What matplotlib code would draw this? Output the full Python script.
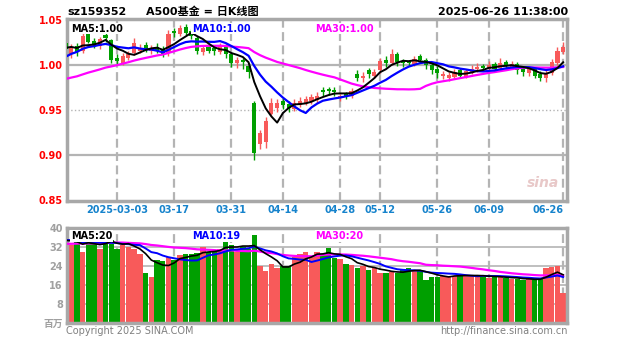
import numpy as np
import pandas as pd
import matplotlib
matplotlib.use('Agg')
from matplotlib import pyplot as plt

plt.rcParams['font.family'] = ['DejaVu Sans', 'Noto Sans CJK SC']

symbol = 'sz159352'
title = 'A500基金 = 日K线图'
stamp = '2025-06-26 11:38:00'

holidays = ['2025-04-04', '2025-05-01', '2025-05-02', '2025-05-05', '2025-06-02']
dates = [d for d in pd.bdate_range('2025-02-18', '2025-06-26').strftime('%Y-%m-%d')
         if d not in holidays]

# daily OHLC, 2025-02-18 .. 2025-06-26
opens = [1.024, 1.012, 1.021, 1.015, 1.034, 1.027, 1.021, 1.033, 1.028,
         1.008, 1.002, 1.008, 1.013, 1.016, 1.022, 1.016, 1.020, 1.018, 1.013,
         1.038, 1.034, 1.042, 1.038, 1.030, 1.014, 1.020, 1.019, 1.014, 1.021,
         1.012, 1.002, 1.006, 0.999, 0.958, 0.912, 0.914, 0.946, 0.952,
         0.960, 0.957, 0.951, 0.956, 0.958, 0.960, 0.961, 0.972, 0.973, 0.972,
         0.963, 0.968, 0.966, 0.990, 0.985, 0.994, 0.988,
         0.994, 1.006, 1.002, 1.012, 1.004, 1.004, 1.001, 1.010, 1.005, 1.000,
         0.996, 0.988, 0.986, 0.987, 0.994, 0.987, 0.992, 0.995, 0.999,
         0.996, 1.001, 0.997, 1.003, 0.998, 1.001, 0.996, 0.991, 0.996, 0.990,
         0.985, 0.991, 1.002, 1.014]
closes = [1.018, 1.020, 1.014, 1.032, 1.026, 1.022, 1.029, 1.030, 1.006,
          1.004, 1.010, 1.012, 1.024, 1.019, 1.018, 1.019, 1.016, 1.012, 1.034,
          1.035, 1.041, 1.036, 1.032, 1.016, 1.019, 1.016, 1.015, 1.021, 1.012,
          1.002, 1.006, 1.003, 0.992, 0.902, 0.924, 0.938, 0.958, 0.958,
          0.955, 0.952, 0.958, 0.960, 0.962, 0.964, 0.966, 0.970, 0.971, 0.970,
          0.965, 0.966, 0.971, 0.986, 0.988, 0.990, 0.992,
          1.004, 1.002, 1.012, 1.003, 1.002, 1.002, 1.007, 1.006, 1.000, 0.994,
          0.991, 0.990, 0.989, 0.992, 0.988, 0.993, 0.996, 0.998, 0.997,
          1.000, 0.996, 1.002, 1.000, 1.001, 0.994, 0.992, 0.995, 0.988, 0.986,
          0.990, 1.003, 1.016, 1.020]
highs = [1.027, 1.023, 1.024, 1.036, 1.039, 1.030, 1.031, 1.035, 1.029,
         1.012, 1.013, 1.016, 1.030, 1.023, 1.025, 1.022, 1.024, 1.021, 1.039,
         1.041, 1.044, 1.045, 1.040, 1.032, 1.022, 1.023, 1.021, 1.024, 1.023,
         1.014, 1.009, 1.008, 1.002, 0.960, 0.928, 0.942, 0.963, 0.962,
         0.963, 0.960, 0.962, 0.964, 0.966, 0.968, 0.970, 0.975, 0.976, 0.975,
         0.968, 0.970, 0.974, 0.994, 0.992, 0.997, 0.995,
         1.008, 1.010, 1.018, 1.014, 1.007, 1.006, 1.010, 1.012, 1.008, 1.003,
         0.999, 0.993, 0.992, 0.995, 0.997, 0.996, 1.000, 1.002, 1.001,
         1.004, 1.003, 1.008, 1.006, 1.004, 1.003, 0.998, 0.998, 0.998, 0.993,
         0.994, 1.007, 1.020, 1.026]
lows = [1.012, 1.008, 1.010, 1.013, 1.024, 1.019, 1.018, 1.026, 1.002,
        1.001, 1.000, 1.005, 1.011, 1.013, 1.014, 1.012, 1.013, 1.009, 1.010,
        1.031, 1.032, 1.033, 1.029, 1.012, 1.011, 1.013, 1.011, 1.012, 1.008,
        0.998, 0.997, 0.996, 0.986, 0.895, 0.907, 0.908, 0.944, 0.948,
        0.951, 0.948, 0.949, 0.953, 0.955, 0.957, 0.958, 0.966, 0.967, 0.966,
        0.960, 0.962, 0.963, 0.982, 0.981, 0.986, 0.985,
        0.991, 0.998, 1.000, 0.999, 0.998, 0.999, 0.999, 1.002, 0.996, 0.990,
        0.986, 0.984, 0.982, 0.984, 0.985, 0.985, 0.990, 0.992, 0.994,
        0.993, 0.993, 0.995, 0.997, 0.995, 0.990, 0.988, 0.988, 0.985, 0.982,
        0.981, 0.989, 1.000, 1.012]
# volume in millions
volumes = [37, 33, 34, 30, 35, 35, 31, 36, 35,
           31, 33, 32, 31, 29, 21, 19.5, 26.5, 26, 28,
           26.5, 28.5, 29, 29, 29.5, 32, 30, 30, 31, 36,
           33, 30, 32, 31, 37, 24, 22, 25, 23,
           24, 24, 28, 29, 30, 28, 30, 28.5, 31.5, 27.5,
           27, 25, 24.5, 23, 24, 22.3, 23,
           21, 21, 21.5, 21, 22.5, 23, 22.5, 22, 18, 19.5,
           19.5, 20, 20, 20, 20, 20, 20, 20, 19.5,
           19, 19.5, 19.5, 19, 18.5, 18.5, 18, 19, 18, 18.5,
           23, 23.5, 24, 12.5]

# sessions before the window, used only for the moving averages
prior_closes = [0.975, 0.972, 0.968, 0.965, 0.970, 0.975, 0.971, 0.966, 0.962,
                0.960, 0.964, 0.969, 0.973, 0.976, 0.978, 0.975, 0.980, 0.982,
                0.979, 0.984, 0.987, 0.992, 0.998, 1.006, 1.012, 1.015, 1.020,
                1.018, 1.024]
prior_volumes = [34, 31, 30, 33, 35, 32, 30, 29, 31, 33, 36, 34, 32, 30, 31,
                 33, 35, 37, 34, 32, 33, 36, 38, 35, 33, 34, 36, 35, 32]

tick_dates = ['2025-03-03', '2025-03-17', '2025-03-31', '2025-04-14', '2025-04-28',
              '2025-05-12', '2025-05-26', '2025-06-09', '2025-06-26']
tick_labels = ['2025-03-03', '03-17', '03-31', '04-14', '04-28',
               '05-12', '05-26', '06-09', '06-26']
price_ticks = [1.05, 1.00, 0.95, 0.90, 0.85]
vol_ticks = [40, 32, 24, 16, 8]

RED = '#f85a5a'
GREEN = '#009f00'
GRID = '#b4b4b4'


def moving_avg(values, prior, n):
    s = pd.Series(list(prior) + list(values)).rolling(n).mean().to_numpy()
    return s[len(prior):]


def frame(ax):
    for sp in ax.spines.values():
        sp.set_color('#a8a8a8')
        sp.set_linewidth(2.5)


x = np.arange(len(dates))
o = np.array(opens)
c = np.array(closes)
up = c >= o
colors = np.where(up, RED, GREEN)
xticks = [dates.index(d) for d in tick_dates]
xlim = (xticks[0] - 8.74, xticks[0] + 78.67)

fig = plt.figure(figsize=(6.27, 3.42), dpi=100)
ax = fig.add_axes([67 / 627, 1 - 201 / 342, 500 / 627, 182 / 342])
axv = fig.add_axes([67 / 627, 1 - 323 / 342, 500 / 627, 95 / 342])

# price panel
ax.set_xlim(*xlim)
ax.set_ylim(0.849, 1.051)
for t in xticks:
    ax.axvline(t, color=GRID, lw=1.6, ls=(0, (4, 2)), zorder=0)
ax.axhline(1.00, color=GRID, lw=1.6, zorder=0)
ax.axhline(0.95, color=GRID, lw=1.0, ls=':', zorder=0)
ax.axhline(0.90, color=GRID, lw=1.6, zorder=0)

ax.vlines(x, lows, highs, colors=colors, lw=1, zorder=2)
body = np.maximum(np.abs(c - o), 0.0008)
ax.bar(x, body, bottom=np.minimum(o, c), width=0.72, color=colors, zorder=3)

ma5 = moving_avg(closes, prior_closes, 5)
ma10 = moving_avg(closes, prior_closes, 10)
ma30 = moving_avg(closes, prior_closes, 30)
ax.plot(x, ma30, color='#ff00ff', lw=1.6, zorder=4)
ax.plot(x, ma10, color='#0000ff', lw=1.6, zorder=5)
ax.plot(x, ma5, color='black', lw=1.4, zorder=6)

box = dict(facecolor='white', edgecolor='none', pad=0.6)
ax.text(0.008, 0.975, f'MA5:{ma5[-1]:.2f}', transform=ax.transAxes, fontsize=7,
        fontweight='bold', color='black', va='top', bbox=box, zorder=7)
ax.text(0.25, 0.975, f'MA10:{ma10[-1]:.2f}', transform=ax.transAxes, fontsize=7,
        fontweight='bold', color='#0000ff', va='top', bbox=box, zorder=7)
ax.text(0.497, 0.975, f'MA30:{ma30[-1]:.2f}', transform=ax.transAxes, fontsize=7,
        fontweight='bold', color='#ff00ff', va='top', bbox=box, zorder=7)

ax.set_yticks(price_ticks)
ax.set_yticklabels([f'{v:.2f}' for v in price_ticks], color='red',
                   fontsize=7, fontweight='bold')
ax.set_xticks(xticks)
ax.set_xticklabels(tick_labels, color='#1683cc', fontsize=7, fontweight='bold')
ax.get_xticklabels()[-1].set_ha('right')
ax.tick_params(length=0, pad=3)
frame(ax)
ax.text(0.985, 0.06, 'sina', transform=ax.transAxes, fontsize=10, fontweight='bold',
        fontstyle='italic', color='#e8c8c8', ha='right', va='bottom', zorder=1)

# volume panel
axv.set_xlim(*xlim)
axv.set_ylim(0, 40)
for t in xticks:
    axv.axvline(t, color=GRID, lw=1.6, ls=(0, (4, 2)), zorder=0)
for v in vol_ticks:
    axv.axhline(v, color=GRID, lw=1.2, zorder=0)
axv.bar(x, volumes, width=0.95, color=colors, zorder=2)
vma5 = moving_avg(volumes, prior_volumes, 5)
vma10 = moving_avg(volumes, prior_volumes, 10)
vma30 = moving_avg(volumes, prior_volumes, 30)
axv.plot(x, vma30, color='#ff00ff', lw=1.6, zorder=4)
axv.plot(x, vma10, color='#0000ff', lw=1.4, zorder=5)
axv.plot(x, vma5, color='black', lw=1.2, zorder=6)

axv.text(0.008, 0.965, f'MA5:{vma5[-1]:.0f}', transform=axv.transAxes, fontsize=7,
         fontweight='bold', color='black', va='top', bbox=box, zorder=7)
axv.text(0.25, 0.965, f'MA10:{vma10[-1]:.0f}', transform=axv.transAxes, fontsize=7,
         fontweight='bold', color='#0000ff', va='top', bbox=box, zorder=7)
axv.text(0.497, 0.965, f'MA30:{vma30[-1]:.0f}', transform=axv.transAxes, fontsize=7,
         fontweight='bold', color='#ff00ff', va='top', bbox=box, zorder=7)

axv.set_yticks([0] + vol_ticks)
axv.set_yticklabels(['百万'] + [str(v) for v in vol_ticks], color='#a0a0a0',
                    fontsize=7, fontweight='bold')
axv.set_xticks([])
axv.tick_params(length=0, pad=3)
frame(axv)

# header and footer
fig.text(67 / 627, 1 - 12 / 342, symbol, fontsize=8, fontweight='bold', va='center')
fig.text(202 / 627, 1 - 12 / 342, title, fontsize=8, fontweight='bold',
         va='center', ha='center')
fig.text(568 / 627, 1 - 12 / 342, stamp, fontsize=8, fontweight='bold',
         va='center', ha='right')
fig.text(66 / 627, 1 - 331 / 342, 'Copyright 2025 SINA.COM', fontsize=7,
         color='#808080', va='center')
fig.text(568 / 627, 1 - 331 / 342, 'http://finance.sina.com.cn', fontsize=7,
         color='#808080', va='center', ha='right')

fig.savefig('out.png', dpi=100, facecolor='white')
